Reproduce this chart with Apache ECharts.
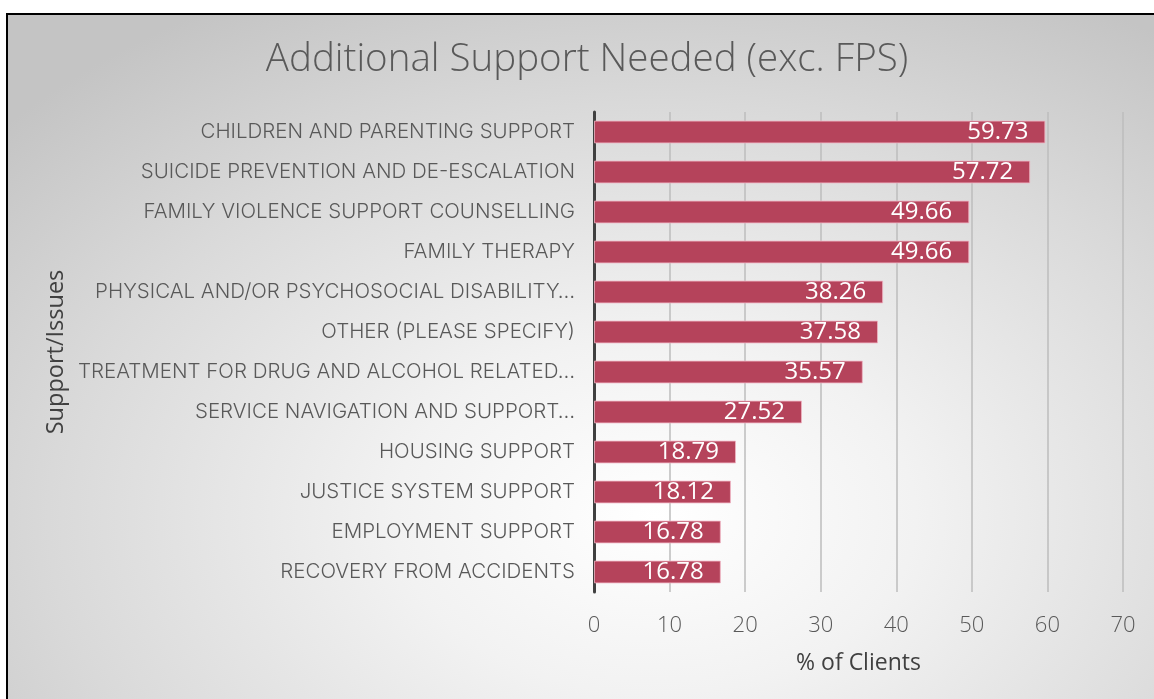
<!DOCTYPE html>
<html>
<head>
<meta charset="utf-8">
<script src="https://cdn.jsdelivr.net/npm/echarts@6/dist/echarts.min.js"></script>
<style>
  html, body { margin: 0; padding: 0; background: #ffffff; }
  #frame {
    position: absolute; left: 6px; top: 13px; width: 1160px; height: 700px;
    border: 2px solid #000; box-sizing: border-box;
    background: radial-gradient(ellipse 75% 85% at 56% 72%, #ffffff 0%, #f2f2f2 30%, #d9d9d9 70%, #c4c4c4 100%);
  }
  #chart { position: absolute; left: 0; top: 0; width: 1154px; height: 699px; }
</style>
</head>
<body>
<div id="frame"></div>
<div id="chart"></div>
<script>
// Share of clients needing each kind of additional support (top to bottom)
const categories = [
  'CHILDREN AND PARENTING SUPPORT',
  'SUICIDE PREVENTION AND DE-ESCALATION',
  'FAMILY VIOLENCE SUPPORT COUNSELLING',
  'FAMILY THERAPY',
  'PHYSICAL AND/OR PSYCHOSOCIAL DISABILITY…',
  'OTHER (PLEASE SPECIFY)',
  'TREATMENT FOR DRUG AND ALCOHOL RELATED…',
  'SERVICE NAVIGATION AND SUPPORT…',
  'HOUSING SUPPORT',
  'JUSTICE SYSTEM SUPPORT',
  'EMPLOYMENT SUPPORT',
  'RECOVERY FROM ACCIDENTS'
];
const values = [59.73, 57.72, 49.66, 49.66, 38.26, 37.58, 35.57, 27.52, 18.79, 18.12, 16.78, 16.78];
const xTicks = [0, 10, 20, 30, 40, 50, 60, 70];

const font = '"Open Sans", Lato, sans-serif';
const catFont = 'Inter, "Open Sans", sans-serif';
const chart = echarts.init(document.getElementById('chart'), null, { renderer: 'canvas' });

chart.setOption({
  animation: false,
  title: {
    text: 'Additional Support Needed (exc. FPS)',
    left: 582, top: 36, textAlign: 'center',
    textStyle: { fontFamily: font, fontWeight: 300, fontSize: 38.5, color: '#595959' }
  },
  grid: { left: 594, right: 31, top: 112, bottom: 107, containLabel: false },
  xAxis: {
    type: 'value',
    min: xTicks[0], max: xTicks[xTicks.length - 1], interval: 10,
    name: '% of Clients', nameLocation: 'middle', nameGap: 60,
    nameTextStyle: { fontFamily: font, fontSize: 23, color: '#404040' },
    axisLine: { show: false },
    axisTick: { show: false },
    axisLabel: { fontFamily: font, fontWeight: 300, fontSize: 22, color: '#595959', margin: 23 },
    splitLine: { show: true, lineStyle: { color: '#bdbdbd', width: 1.5 } }
  },
  yAxis: {
    type: 'category',
    data: categories,
    inverse: true,
    name: 'Support/Issues', nameLocation: 'middle', nameGap: 526, nameRotate: 90,
    nameTextStyle: { fontFamily: font, fontSize: 23.5, color: '#404040' },
    axisLine: { show: true, lineStyle: { color: '#404040', width: 3 } },
    axisTick: { show: false },
    axisLabel: { fontFamily: catFont, fontWeight: 300, fontSize: 20.5, color: '#595959', margin: 19 },
    splitLine: { show: false }
  },
  series: [{
    type: 'bar',
    data: values,
    barCategoryGap: '43%',
    itemStyle: { color: '#b5435b', borderColor: 'rgba(240,180,195,0.8)', borderWidth: 1 },
    label: {
      show: true, position: 'insideRight', distance: 17,
      fontFamily: font, fontSize: 24, color: '#ffffff',
      formatter: p => p.value.toFixed(2)
    }
  }]
});
</script>
</body>
</html>
